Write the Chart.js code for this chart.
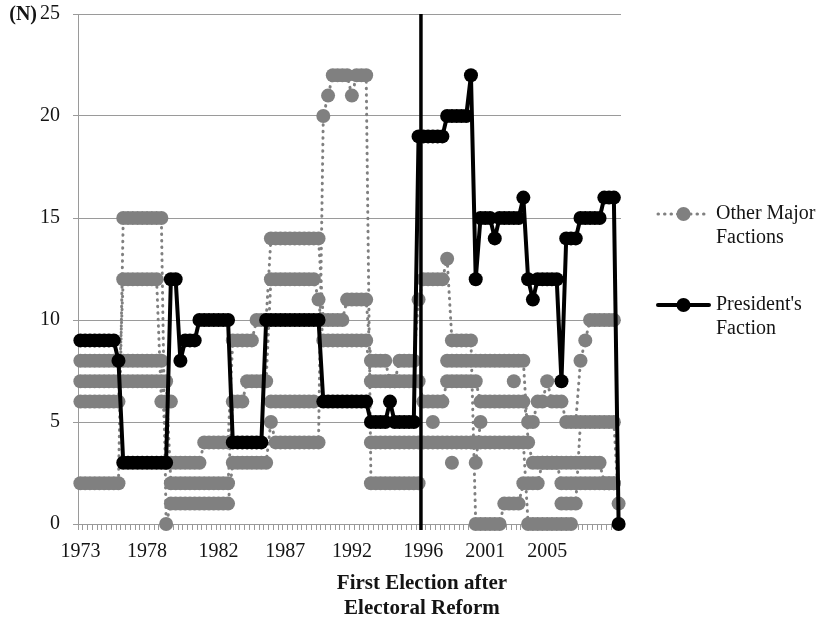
<!DOCTYPE html>
<html>
<head>
<meta charset="utf-8">
<script src="https://cdn.jsdelivr.net/npm/chart.js@4.4.1/dist/chart.umd.min.js"></script>
<style>
  html, body { margin: 0; padding: 0; background: #ffffff; }
  #c { display: block; }
</style>
</head>
<body>
<canvas id="c" width="821" height="622" style="width:821px;height:622px"></canvas>
<script>
const _ = null;

// x-axis: one category per observation period; year labels at these periods
const tickYears = ['1973', '1978', '1982', '1987', '1992', '1996', '2001', '2005'];
const tickPeriods = [0, 14, 29, 43, 57, 72, 85, 98];
const periodCount = 114;
const reformPeriod = 71.5;   // first election after electoral reform (1996)

const yTicks = [0, 5, 10, 15, 20, 25];
const unitLabel = '(N)';
const xTitle = ['First Election after', 'Electoral Reform'];
const legendOther = ['Other Major', 'Factions'];
const legendPresident = ["President's", 'Faction'];

// President's faction (N) per period
const presidentFaction = [
  9, 9, 9, 9, 9, 9, 9, 9, 8, 3,
  3, 3, 3, 3, 3, 3, 3, 3, 3, 12,
  12, 8, 9, 9, 9, 10, 10, 10, 10, 10,
  10, 10, 4, 4, 4, 4, 4, 4, 4, 10,
  10, 10, 10, 10, 10, 10, 10, 10, 10, 10,
  10, 6, 6, 6, 6, 6, 6, 6, 6, 6,
  6, 5, 5, 5, 5, 6, 5, 5, 5, 5,
  5, 19, 19, 19, 19, 19, 19, 20, 20, 20,
  20, 20, 22, 12, 15, 15, 15, 14, 15, 15,
  15, 15, 15, 16, 12, 11, 12, 12, 12, 12,
  12, 7, 14, 14, 14, 15, 15, 15, 15, 15,
  16, 16, 16, 0
];

// Other major factions (N) per period
const otherFactionA = [
  8, 8, 8, 8, 8, 8, 8, 8, 8, 8,
  8, 8, 8, 8, 8, 8, 8, 8, 3, 3,
  3, 3, 3, 3, 3, 3, 4, 4, 4, 4,
  4, 4, 9, 9, 9, 9, 9, 10, 10, 10,
  14, 14, 14, 14, 14, 14, 14, 14, 14, 14,
  14, 10, 10, 10, 10, 10, 11, 11, 11, 11,
  11, 8, 8, 8, 8, 7, 7, 8, 8, 8,
  8, 11, 12, 12, 12, 12, 12, 13, 9, 9,
  9, 9, 9, 0, 0, 0, 0, 0, 0, 1,
  1, 1, 1, 2, 2, 2, 2, 3, 3, 3,
  3, 2, 2, 2, 2, 2, 2, 2, 2, 2,
  2, 2, 2, _
];
const otherFactionB = [
  7, 7, 7, 7, 7, 7, 7, 7, 7, 7,
  7, 7, 7, 7, 7, 7, 7, 7, 7, 2,
  2, 2, 2, 2, 2, 2, 2, 2, 2, 2,
  2, 2, 6, 6, 6, 7, 7, 7, 7, 7,
  12, 12, 12, 12, 12, 12, 12, 12, 12, 12,
  11, 9, 9, 9, 9, 9, 9, 9, 9, 9,
  9, 7, 7, 7, 7, 7, 7, 7, 7, 7,
  7, 7, 6, 6, 6, 6, 6, 7, 7, 7,
  7, 7, 7, 7, 6, 6, 6, 6, 6, 6,
  6, 6, 6, 6, 5, 5, 6, 6, 7, 6,
  6, 6, 5, 5, 5, 8, 9, 10, 10, 10,
  10, 10, 10, _
];
const otherFactionC = [
  6, 6, 6, 6, 6, 6, 6, 6, 6, 12,
  12, 12, 12, 12, 12, 12, 12, 6, 6, 6,
  _, _, _, _, _, _, _, _, _, _,
  _, _, _, _, _, _, _, _, _, _,
  6, 6, 6, 6, 6, 6, 6, 6, 6, 6,
  _, _, _, _, _, _, _, _, _, _,
  _, 4, 4, 4, 4, 4, 4, 4, 4, 4,
  4, 4, 4, 4, 4, 4, 4, 4, 4, 4,
  4, 4, 4, 4, 4, 4, 4, 4, 4, 4,
  4, 4, 4, 4, 0, 0, 0, 0, 0, 0,
  0, 0, 0, 0, _, _, _, _, _, _,
  _, _, _, _
];
const otherFactionD = [
  2, 2, 2, 2, 2, 2, 2, 2, 2, 15,
  15, 15, 15, 15, 15, 15, 15, 15, 0, 1,
  1, 1, 1, 1, 1, 1, 1, 1, 1, 1,
  1, 1, 3, 3, 3, 3, 3, 3, 3, 3,
  5, 4, 4, 4, 4, 4, 4, 4, 4, 4,
  4, 20, 21, 22, 22, 22, 22, 21, 22, 22,
  22, 2, 2, 2, 2, 2, 2, 2, 2, 2,
  2, 2, _, _, _, _, _, 8, 8, 8,
  8, 8, 8, 8, 8, 8, 8, 8, 8, 8,
  8, 8, 8, 8, 4, 3, 3, 3, 3, 3,
  3, 3, 3, 3, 3, 3, 3, 3, 3, 3,
  2, 2, 2, _
];
const otherFactionE = [
  _, _, _, _, _, _, _, _, _, _,
  _, _, _, _, _, _, _, _, _, _,
  _, _, _, _, _, _, _, _, _, _,
  _, _, _, _, _, _, _, _, _, _,
  _, _, _, _, _, _, _, _, _, _,
  _, _, _, _, _, _, _, _, _, _,
  _, _, _, _, _, _, _, _, _, _,
  _, _, _, _, 5, _, _, _, 3, _,
  _, _, _, 3, 5, _, _, _, _, _,
  _, 7, _, _, _, _, _, _, _, _,
  _, 1, 1, 1, 1, 5, 5, 5, 5, 5,
  5, 5, 5, 1
];

const periodLabels = [];
for (let i = 0; i < periodCount; i++) {
  const k = tickPeriods.indexOf(i);
  periodLabels.push(k >= 0 ? tickYears[k] : '');
}

const GRAY = '#808080';
const GRID = '#9a9a9a';
const TEXT = '#141414';
const SERIF = "'Liberation Serif', 'Times New Roman', serif";

function grayDataset(data, label) {
  return {
    label: label,
    data: data,
    borderColor: GRAY,
    backgroundColor: GRAY,
    borderWidth: 3,
    borderDash: [0.5, 6],
    borderCapStyle: 'round',
    pointRadius: 7,
    pointHoverRadius: 7,
    pointBorderWidth: 0,
    pointBackgroundColor: GRAY,
    spanGaps: false,
    tension: 0,
    clip: false
  };
}

function pixelForPeriod(scale, p) {
  const lo = Math.floor(p), hi = Math.ceil(p);
  const a = scale.getPixelForValue(lo), b = scale.getPixelForValue(hi);
  return a + (b - a) * (p - lo);
}

const reformLinePlugin = {
  id: 'reformLine',
  afterDatasetsDraw(chart) {
    const x = pixelForPeriod(chart.scales.x, reformPeriod);
    const area = chart.chartArea;
    const ctx = chart.ctx;
    ctx.save();
    ctx.strokeStyle = '#000000';
    ctx.lineWidth = 3.5;
    ctx.beginPath();
    ctx.moveTo(x, area.top);
    ctx.lineTo(x, area.bottom + 6);
    ctx.stroke();
    ctx.restore();
  },
  afterDraw(chart) {
    // axis title, centred under the reform line
    const x = pixelForPeriod(chart.scales.x, reformPeriod);
    const area = chart.chartArea;
    const ctx = chart.ctx;
    ctx.save();
    ctx.font = 'bold 21px ' + SERIF;
    ctx.fillStyle = TEXT;
    ctx.textAlign = 'center';
    ctx.textBaseline = 'middle';
    xTitle.forEach((t, i) => ctx.fillText(t, x + 1, area.bottom + 60 + i * 25));
    ctx.restore();
  }
};

const unitLabelPlugin = {
  id: 'unitLabel',
  afterDraw(chart) {
    const y = chart.scales.y.getPixelForValue(yTicks[yTicks.length - 1]);
    const ctx = chart.ctx;
    ctx.save();
    ctx.font = 'bold 20px ' + SERIF;
    ctx.fillStyle = TEXT;
    ctx.textAlign = 'right';
    ctx.textBaseline = 'middle';
    ctx.fillText(unitLabel, chart.scales.y.right - 41, y + 1);
    ctx.restore();
  }
};

const sideLegendPlugin = {
  id: 'sideLegend',
  afterDraw(chart) {
    const ctx = chart.ctx;
    const area = chart.chartArea;
    const entries = [
      { ds: chart.data.datasets[1], lines: legendOther, y: area.top + 200 },
      { ds: chart.data.datasets[0], lines: legendPresident, y: area.top + 291 }
    ];
    const x0 = area.right + 37, x1 = area.right + 88, tx = area.right + 95;
    ctx.save();
    entries.forEach(e => {
      ctx.save();
      ctx.strokeStyle = e.ds.borderColor;
      ctx.lineWidth = e.ds.borderWidth;
      ctx.lineCap = e.ds.borderCapStyle || 'butt';
      ctx.setLineDash(e.ds.borderDash || []);
      ctx.beginPath();
      ctx.moveTo(x0, e.y);
      ctx.lineTo(x1, e.y);
      ctx.stroke();
      ctx.setLineDash([]);
      ctx.fillStyle = e.ds.pointBackgroundColor;
      ctx.beginPath();
      ctx.arc((x0 + x1) / 2, e.y, e.ds.pointRadius, 0, Math.PI * 2);
      ctx.fill();
      ctx.restore();
      ctx.font = '20px ' + SERIF;
      ctx.fillStyle = TEXT;
      ctx.textAlign = 'left';
      ctx.textBaseline = 'middle';
      e.lines.forEach((t, i) => ctx.fillText(t, tx, e.y + i * 24));
    });
    ctx.restore();
  }
};

new Chart(document.getElementById('c'), {
  type: 'line',
  data: {
    labels: periodLabels,
    datasets: [
      {
        label: "President's Faction",
        data: presidentFaction,
        borderColor: '#000000',
        backgroundColor: '#000000',
        borderWidth: 4,
        borderCapStyle: 'round',
        borderJoinStyle: 'round',
        pointRadius: 7,
        pointHoverRadius: 7,
        pointBorderWidth: 0,
        pointBackgroundColor: '#000000',
        tension: 0,
        clip: false
      },
      grayDataset(otherFactionA, 'Other Major Factions'),
      grayDataset(otherFactionB, 'Other Major Factions'),
      grayDataset(otherFactionC, 'Other Major Factions'),
      grayDataset(otherFactionD, 'Other Major Factions'),
      grayDataset(otherFactionE, 'Other Major Factions')
    ]
  },
  options: {
    responsive: false,
    animation: false,
    events: [],
    layout: { padding: { left: 0, right: 200, top: 14, bottom: 0 } },
    plugins: {
      legend: { display: false },
      tooltip: { enabled: false }
    },
    scales: {
      x: {
        type: 'category',
        offset: true,
        grid: { display: true, drawOnChartArea: false, drawTicks: true, tickLength: 6, color: GRID, offset: true },
        border: { display: true, color: GRID, width: 1 },
        ticks: {
          autoSkip: false, maxRotation: 0, minRotation: 0, padding: 10,
          color: TEXT, font: { family: SERIF, size: 20 }
        },
        title: { display: false },
        afterFit(scale) {
          scale.height = 98;
          scale.paddingLeft = 0;
          scale.paddingRight = 0;
        }
      },
      y: {
        min: yTicks[0],
        max: yTicks[yTicks.length - 1],
        afterBuildTicks(scale) { scale.ticks = yTicks.map(v => ({ value: v })); },
        grid: { color: GRID, lineWidth: 1, drawTicks: true, tickLength: 5 },
        border: { display: true, color: GRID, width: 1 },
        ticks: { padding: 13, color: TEXT, font: { family: SERIF, size: 20 } },
        afterFit(scale) {
          scale.width = 78;
          scale.paddingTop = 0;
          scale.paddingBottom = 0;
        }
      }
    }
  },
  plugins: [reformLinePlugin, unitLabelPlugin, sideLegendPlugin]
});
</script>
</body>
</html>
